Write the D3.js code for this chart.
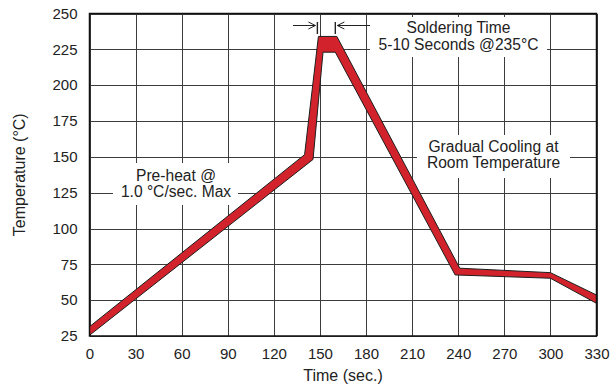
<!DOCTYPE html>
<html>
<head>
<meta charset="utf-8">
<script src="https://cdn.jsdelivr.net/npm/d3@7"></script>
<style>
    body { margin: 0; background: #fff; }
    svg { display: block; font-family: "Liberation Sans", Arial, Helvetica, sans-serif; }
</style>
</head>
<body>
<svg id="chart" width="613" height="385"></svg>
<script>
// Profile band: upper and lower edge (time s, temp °C)
var upperTime = [0, 140, 149, 161, 241, 300, 330];
var upperTemp = [31.5, 151.5, 234, 234, 72.3, 69.2, 53.6];
var lowerTime = [0, 145.5, 152, 160, 238, 300, 330];
var lowerTemp = [25.5, 148.2, 223, 223, 67.6, 65.3, 47.8];

var xTicks = [0, 30, 60, 90, 120, 150, 180, 210, 240, 270, 300, 330];
var yTicks = [25, 50, 75, 100, 125, 150, 175, 200, 225, 250];

// soldering window marks (s)
var solderWindow = [148, 160];

var svg = d3.select("#chart");
// note: "top" is a read-only window global, so use plot* names
var plotLeft = 89.5, plotRight = 596.5, plotTop = 13.5, plotBottom = 336;

var x = d3.scaleLinear().domain([0, 330]).range([plotLeft, plotRight]);
var y = d3.scaleLinear().domain([25, 250]).range([plotBottom, plotTop]);

// Grid + tick labels
var xAxis = svg.append("g")
    .attr("transform", "translate(0," + plotBottom + ")")
    .call(d3.axisBottom(x).tickValues(xTicks).tickSize(-(plotBottom - plotTop)).tickPadding(12));
var yAxis = svg.append("g")
    .attr("transform", "translate(" + plotLeft + ",0)")
    .call(d3.axisLeft(y).tickValues(yTicks).tickSize(-(plotRight - plotLeft)).tickPadding(12));

[xAxis, yAxis].forEach(function (ax) {
    ax.select(".domain").remove();
    ax.selectAll("line").attr("stroke", "#3c3c3c").attr("stroke-width", 1).attr("shape-rendering", "crispEdges");
    ax.selectAll("text").attr("fill", "#222").style("font-size", "15px").attr("font-family", null);
});

// White boxes behind the notes break the grid
var boxes = [
    [113, 163, 238, 205],   // pre-heat
    [370, 17, 547, 57],     // soldering time
    [417, 135, 570, 178]    // cooling
];
svg.selectAll("rect.box").data(boxes).enter().append("rect")
    .attr("class", "box")
    .attr("x", function (d) { return d[0]; })
    .attr("y", function (d) { return d[1]; })
    .attr("width", function (d) { return d[2] - d[0]; })
    .attr("height", function (d) { return d[3] - d[1]; })
    .attr("fill", "#fff");

// Band polygon: upper edge left to right, lower edge back
var pts = upperTime.map(function (t, i) { return [x(t), y(upperTemp[i])]; });
var low = lowerTime.map(function (t, i) { return [x(t), y(lowerTemp[i])]; });
pts = pts.concat(low.reverse());

svg.append("path")
    .attr("d", d3.line()(pts) + "Z")
    .attr("fill", "#d2222b")
    .attr("stroke", "#1e1e1e")
    .attr("stroke-width", 1)
    .attr("stroke-linejoin", "miter");

// Soldering window arrows
var ay = 25.5;
var mk = svg.append("g").attr("stroke", "#222").attr("fill", "none").attr("stroke-width", 1);
var x0 = x(solderWindow[0]) + 0.5, x1 = x(solderWindow[1]);
mk.append("line").attr("x1", x0).attr("x2", x0).attr("y1", 22).attr("y2", 34).attr("stroke-width", 1.4);
mk.append("line").attr("x1", x1).attr("x2", x1).attr("y1", 22).attr("y2", 34).attr("stroke-width", 1.4);
mk.append("line").attr("x1", 293).attr("x2", x0 - 2).attr("y1", ay).attr("y2", ay);
mk.append("path").attr("d", "M" + (x0 - 9) + "," + (ay - 3.5) + "L" + (x0 - 2) + "," + ay + "L" + (x0 - 9) + "," + (ay + 3.5));
mk.append("line").attr("x1", x1 + 2).attr("x2", 370).attr("y1", ay).attr("y2", ay);
mk.append("path").attr("d", "M" + (x1 + 9) + "," + (ay - 3.5) + "L" + (x1 + 2) + "," + ay + "L" + (x1 + 9) + "," + (ay + 3.5));

// Notes
var notes = [
    { cx: 176, y: 180.5, lines: ["Pre-heat @", "1.0 \u00B0C/sec. Max"] },
    { cx: 458.5, y: 33.3, lines: ["Soldering Time", "5-10 Seconds @235\u00B0C"] },
    { cx: 493.5, y: 151.7, lines: ["Gradual Cooling at", "Room Temperature"] }
];
notes.forEach(function (n) {
    var t = svg.append("text")
        .attr("text-anchor", "middle")
        .attr("fill", "#222")
        .style("font-size", "15.6px");
    n.lines.forEach(function (s, i) {
        t.append("tspan").attr("x", n.cx).attr("y", n.y + i * 16.3).text(s);
    });
});

// Axis titles
svg.append("text")
    .attr("x", (plotLeft + plotRight) / 2).attr("y", 381)
    .attr("text-anchor", "middle").attr("fill", "#222")
    .style("font-size", "16px")
    .text("Time (sec.)");
svg.append("text")
    .attr("transform", "translate(25," + (plotTop + plotBottom) / 2 + ") rotate(-90)")
    .attr("text-anchor", "middle").attr("fill", "#222")
    .style("font-size", "16px")
    .text("Temperature (\u00B0C)");

// Plot frame
svg.append("rect")
    .attr("x", plotLeft).attr("y", plotTop)
    .attr("width", plotRight - plotLeft).attr("height", plotBottom - plotTop)
    .attr("fill", "none").attr("stroke", "#111").attr("stroke-width", 1.5);
</script>
</body>
</html>
